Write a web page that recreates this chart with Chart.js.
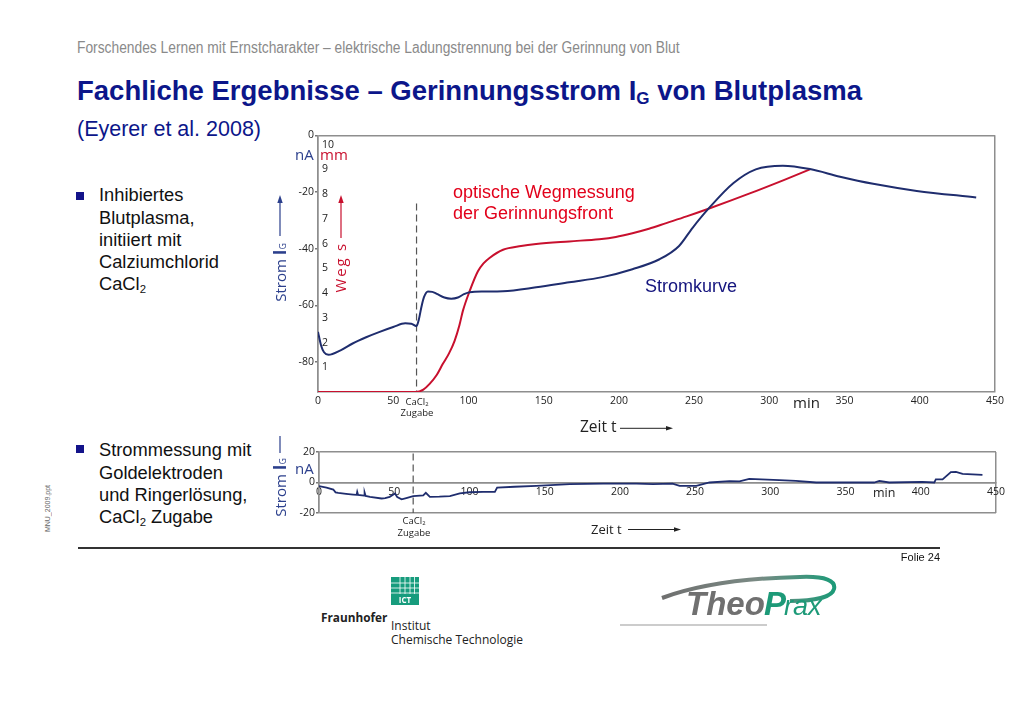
<!DOCTYPE html>
<html><head><meta charset="utf-8">
<script src="https://cdn.jsdelivr.net/npm/chart.js@4.4.1/dist/chart.umd.min.js"></script>
<style>
html,body{margin:0;padding:0;background:#fff;}
#page{position:relative;width:1024px;height:724px;overflow:hidden;background:#fff;font-family:"Liberation Sans",Arial,sans-serif;}
.t{position:absolute;white-space:nowrap;line-height:1;}
.os{font-family:"Open Sans",sans-serif;}
canvas{position:absolute;}
.vert{position:absolute;writing-mode:vertical-rl;transform:rotate(180deg);white-space:nowrap;line-height:1;font-family:"Open Sans",sans-serif;}
sub.g{font-size:62%;vertical-align:-0.25em;line-height:0;}
.vert sub.g{font-size:60%;vertical-align:-0.3em;font-weight:normal;}
.sq{position:absolute;width:8px;height:8px;background:#13138a;}
</style></head><body><div id="page">
<canvas id="main" width="729" height="287" style="left:278px;top:125px;width:729px;height:287px"></canvas>
<canvas id="lower" width="729" height="77" style="left:279px;top:444px;width:729px;height:77px"></canvas>

<div class="t" style="left:77px;top:40px;font-size:16px;color:#8a8a8a;transform:scaleX(0.862);transform-origin:0 0;">Forschendes Lernen mit Ernstcharakter – elektrische Ladungstrennung bei der Gerinnung von Blut</div>
<div class="t" style="left:77px;top:77px;font-size:27.5px;font-weight:bold;color:#0c168a;">Fachliche Ergebnisse – Gerinnungsstrom I<sub class="g">G</sub> von Blutplasma</div>
<div class="t" style="left:77px;top:119px;font-size:21.5px;color:#0c168a;">(Eyerer et al. 2008)</div>

<div class="sq" style="left:76px;top:192px;"></div>
<div class="t" style="left:99px;top:184.3px;font-size:18.3px;line-height:22.3px;color:#111;">Inhibiertes<br>Blutplasma,<br>initiiert mit<br>Calziumchlorid<br>CaCl<sub class="g">2</sub></div>
<div class="sq" style="left:76px;top:445px;"></div>
<div class="t" style="left:99px;top:439.3px;font-size:18.3px;line-height:22.3px;color:#111;">Strommessung mit<br>Goldelektroden<br>und Ringerlösung,<br>CaCl<sub class="g">2</sub> Zugabe</div>

<div class="t" style="left:453px;top:182.3px;font-size:18px;line-height:21px;color:#e2001a;">optische Wegmessung<br>der Gerinnungsfront</div>
<div class="t" style="left:645px;top:276.5px;font-size:18px;color:#14147e;">Stromkurve</div>

<div class="t os" style="left:295px;top:147px;font-size:15px;color:#2b3f8c;">nA</div>
<div class="t os" style="left:320px;top:146.7px;font-size:15px;color:#c8102e;">mm</div>
<div class="vert" style="left:270.5px;bottom:422px;font-size:15px;color:#2b3f8c;">Strom <b style="font-size:17px;">I</b><sub class="g">G</sub></div>
<div class="vert" style="left:333px;bottom:432px;font-size:15px;letter-spacing:1.8px;color:#c8102e;">Weg s</div>

<div class="t os" style="left:387px;top:395.5px;width:60px;text-align:center;font-size:9.5px;line-height:11.5px;color:#222;">CaCl<sub class="g">2</sub><br>Zugabe</div>
<div class="t os" style="left:793px;top:394.7px;font-size:15px;color:#222;">min</div>
<div class="t os" style="left:580px;top:419.3px;font-size:15.5px;color:#222;">Zeit t</div>

<div class="t os" style="left:295px;top:461px;font-size:15px;color:#2b3f8c;">nA</div>
<div class="vert" style="left:270.5px;bottom:207px;font-size:15px;color:#2b3f8c;">Strom <b style="font-size:17px;">I</b><sub class="g">G</sub></div>
<div class="t os" style="left:384px;top:515px;width:60px;text-align:center;font-size:9.5px;line-height:11.5px;color:#222;">CaCl<sub class="g">2</sub><br>Zugabe</div>
<div class="t os" style="left:873px;top:487px;font-size:12.5px;color:#222;">min</div>
<div class="t os" style="left:591px;top:523px;font-size:13px;color:#222;">Zeit t</div>

<div class="vert" style="left:44px;bottom:192px;font-family:'Liberation Sans',sans-serif;font-size:7px;color:#666;">MNU_2009.ppt</div>
<div class="t" style="left:880px;top:552px;width:60px;text-align:right;font-size:11px;color:#111;">Folie 24</div>

<div class="t os" style="left:321px;top:611.5px;font-size:11.8px;font-weight:bold;color:#222;">Fraunhofer</div>
<div class="t os" style="left:391px;top:619px;font-size:12px;line-height:14px;color:#222;">Institut<br>Chemische Technologie</div>

<svg style="position:absolute;left:0;top:0;" width="1024" height="724" viewBox="0 0 1024 724">
  <defs>
    <linearGradient id="sw" x1="0" y1="0" x2="1" y2="0">
      <stop offset="0" stop-color="#6f6f6f"/>
      <stop offset="0.55" stop-color="#7a8a84"/>
      <stop offset="1" stop-color="#1d9a78"/>
    </linearGradient>
  </defs>
  <!-- axis arrows -->
  <line x1="280" y1="236" x2="280" y2="201" stroke="#2b3f8c" stroke-width="1.2"/>
  <polygon points="280,195 277.3,203 282.7,203" fill="#2b3f8c"/>
  <line x1="341" y1="238" x2="341" y2="201" stroke="#c8102e" stroke-width="1.2"/>
  <polygon points="341,195 338.3,203 343.7,203" fill="#c8102e"/>
  <line x1="280" y1="453" x2="280" y2="436" stroke="#2b3f8c" stroke-width="1.2"/>
  <line x1="620" y1="428.3" x2="667" y2="428.3" stroke="#222" stroke-width="1"/>
  <polygon points="673,428.3 666,426 666,430.6" fill="#222"/>
  <line x1="628" y1="529.5" x2="675" y2="529.5" stroke="#222" stroke-width="1"/>
  <polygon points="681,529.5 674,527.2 674,531.8" fill="#222"/>
  <!-- bottom rule -->
  <line x1="78" y1="548" x2="940" y2="548" stroke="#333" stroke-width="2"/>
  <!-- Fraunhofer ICT mark -->
  <rect x="391" y="577" width="28" height="28" fill="#179c7d"/>
  <g stroke="#fff" stroke-width="0.8">
    <line x1="391" y1="583" x2="419" y2="583"/><line x1="391" y1="588" x2="419" y2="588"/><line x1="391" y1="593" x2="419" y2="593"/>
    <line x1="400" y1="577" x2="400" y2="594"/><line x1="405" y1="577" x2="405" y2="594"/><line x1="410" y1="577" x2="410" y2="594"/><line x1="414.5" y1="577" x2="414.5" y2="594"/>
  </g>
  <text x="405" y="603" text-anchor="middle" font-family="Open Sans,sans-serif" font-size="8" font-weight="bold" fill="#fff">ICT</text>
  <!-- TheoPrax logo -->
  <line x1="620" y1="625" x2="767" y2="625" stroke="#9a9a9a" stroke-width="1.2"/>
  <path d="M662,598 C700,584 750,578 800,577 C826,576 836,581 834,589 C832,597 815,601 790,601" fill="none" stroke="url(#sw)" stroke-width="4"/>
  <text x="686" y="615" font-family="Liberation Sans,sans-serif" font-style="italic" font-weight="bold" font-size="33" fill="#707070">Theo</text>
  <text x="764" y="615" font-family="Liberation Sans,sans-serif" font-style="italic" font-weight="bold" font-size="33" fill="#1d9a78">P</text>
  <text x="784" y="615" font-family="Liberation Sans,sans-serif" font-style="italic" font-size="27" fill="#1d9a78">rax</text>
</svg>
</div>
<script>
// ---------- data ----------
const xTicks = [0, 50, 100, 150, 200, 250, 300, 350, 400, 450];
const nATicks = [0, -20, -40, -60, -80];
const mmTicks = [1, 2, 3, 4, 5, 6, 7, 8, 9, 10];
const lowerTicks = [20, 0, -20];

// Stromkurve (nA) over time (min)
const stromT = [0, 2, 4, 7, 15, 23, 32, 41, 50, 58, 62, 65.4, 67, 68.7, 70.5, 73.1, 76, 79, 84, 88.6, 93, 97, 100.8, 110, 122.9, 145, 167, 189, 209, 227, 240, 249, 260, 276, 291, 309, 327, 347, 369, 398, 437.5];
const stromI = [-69.3, -74, -76.5, -77.4, -75.8, -73.4, -71.2, -69.3, -67.6, -66.3, -66.4, -67.3, -65, -60.6, -57, -55.1, -55.2, -55.9, -57.2, -57.6, -57.2, -56, -55.3, -55.1, -55.0, -53.6, -51.8, -50, -47.2, -43.7, -39.0, -32.6, -25.6, -16.9, -12.0, -10.7, -11.9, -14.6, -17.1, -19.6, -21.9];

// optische Wegmessung (mm) over time (min)
const wegT = [0, 65, 70, 74.2, 79, 83, 87, 90.8, 94, 96.3, 100.8, 106.3, 110, 114, 123, 135, 145, 167, 187, 198, 209, 220, 231.5, 245, 260, 287, 310, 327];
const wegS = [0, 0, 0.1, 0.33, 0.7, 1.14, 1.55, 2.07, 2.7, 3.28, 4.08, 4.88, 5.2, 5.42, 5.75, 5.9, 5.98, 6.09, 6.18, 6.27, 6.42, 6.6, 6.83, 7.1, 7.42, 8.03, 8.58, 9.0];

// CaCl2 Zugabe marker (min)
const cacl2Main = 65.5;
const cacl2Lower = 62.6;

// lower chart: Strom (nA) with gold electrodes / Ringer solution
const lowerT = [0, 5, 9.5, 11, 12.8, 18, 22.8, 25, 25.4, 26, 30, 30.3, 31, 33.9, 41.6, 44, 47, 50.5, 52, 54.9, 58, 62.6, 69.3, 71, 73.7, 80, 87, 93.6, 100, 109, 116.9, 118.4, 130, 144.5, 166.7, 188.8, 211, 222, 235, 239.7, 250.8, 259.6, 272.9, 279.5, 286, 306, 317, 330.5, 369, 372.5, 379, 401, 409, 410, 414.5, 420, 423.4, 427.8, 441];
const lowerI = [-2.4, -3.3, -4.6, -6.5, -6.8, -7.4, -7.9, -8.1, -6.1, -8.2, -8.6, -6.5, -8.8, -9.4, -10.5, -10.2, -9.4, -7.2, -9.5, -11, -10.2, -9.0, -8.4, -6.8, -9.4, -9.3, -9.0, -7.2, -6.4, -6.1, -6.1, -3.3, -2.8, -2.2, -1.1, -0.7, -0.7, -1.1, -0.7, -2.2, -2.2, 0, 0.9, 0.7, 2.4, 1.5, 1.1, 0, 0, 1.1, 0, 0.4, 0, 2.0, 2.0, 6.8, 7.0, 5.7, 5.0];

// ---------- styles ----------
const frameColor = '#8e8e8e';
const blue = '#1f2d6e';
const red = '#c8102e';
const tickFont = { family: 'Open Sans', size: 10.5 };
const pts = (xs, ys) => xs.map((x, i) => ({ x: x, y: ys[i] }));
const setTicks = arr => scale => { scale.ticks = arr.map(v => ({ value: v })); };
const edgeX = ctx => (ctx.tick && (ctx.tick.value === 0 || ctx.tick.value === 450)) ? frameColor : 'rgba(0,0,0,0)';

new Chart(document.getElementById('main'), {
  type: 'line',
  data: {
    datasets: [
      { label: 'Stromkurve', data: pts(stromT, stromI), yAxisID: 'y', borderColor: blue, borderWidth: 2, pointRadius: 0, cubicInterpolationMode: 'monotone', fill: false },
      { label: 'optische Wegmessung der Gerinnungsfront', data: pts(wegT, wegS), yAxisID: 'y2', borderColor: red, borderWidth: 2, pointRadius: 0, cubicInterpolationMode: 'monotone', fill: false },
      { label: 'CaCl2 Zugabe', data: [{ x: cacl2Main, y: -24 }, { x: cacl2Main, y: -90.5 }], yAxisID: 'y', borderColor: '#555', borderWidth: 1.2, borderDash: [7, 4], pointRadius: 0, fill: false }
    ]
  },
  options: {
    responsive: false, animation: false, events: [],
    layout: { padding: { top: 8, right: 12, left: 0, bottom: 0 } },
    plugins: { legend: { display: false }, tooltip: { enabled: false } },
    scales: {
      x: {
        type: 'linear', position: 'bottom', min: 0, max: 450,
        afterBuildTicks: setTicks(xTicks), afterFit: s => { s.height = 20; },
        grid: { color: edgeX, lineWidth: 1.5, drawTicks: false },
        border: { display: true, color: frameColor, width: 1.5 },
        ticks: { padding: 3, font: tickFont, color: '#222', maxRotation: 0, autoSkip: false }
      },
      y: {
        type: 'linear', position: 'left', weight: 1, min: -90.5, max: 0,
        afterBuildTicks: setTicks(nATicks), afterFit: s => { s.width = 40; },
        grid: { color: ctx => (ctx.tick && ctx.tick.value === 0) ? frameColor : 'rgba(0,0,0,0)', lineWidth: 1.5, tickColor: '#777', tickLength: 3 },
        border: { display: true, color: frameColor, width: 1.5 },
        ticks: { padding: 1, font: tickFont, color: '#222' }
      },
      y2: {
        type: 'linear', position: 'left', weight: 0, min: 0, max: 10.38,
        afterBuildTicks: setTicks(mmTicks), afterFit: s => { s.width = 0; },
        grid: { display: false }, border: { display: false },
        ticks: { mirror: true, padding: 4, font: tickFont, color: '#222' }
      }
    }
  }
});

new Chart(document.getElementById('lower'), {
  type: 'line',
  data: {
    datasets: [
      { label: 'Strom IG', data: pts(lowerT, lowerI), borderColor: blue, borderWidth: 1.8, pointRadius: 0, tension: 0, fill: false },
      { label: 'CaCl2 Zugabe', data: [{ x: cacl2Lower, y: 19 }, { x: cacl2Lower, y: -20 }], borderColor: '#555', borderWidth: 1.2, borderDash: [7, 4], pointRadius: 0, fill: false }
    ]
  },
  options: {
    responsive: false, animation: false, events: [],
    layout: { padding: { top: 8, right: 12, left: 0, bottom: 8 } },
    plugins: { legend: { display: false }, tooltip: { enabled: false } },
    scales: {
      x: {
        type: 'linear', position: { y: 0 }, min: 0, max: 450,
        afterBuildTicks: setTicks(xTicks),
        grid: { color: edgeX, lineWidth: 1.5, drawTicks: false },
        border: { display: true, color: frameColor, width: 1.5 },
        ticks: { padding: 3, font: tickFont, color: '#222', maxRotation: 0, autoSkip: false }
      },
      y: {
        type: 'linear', position: 'left', min: -20, max: 20,
        afterBuildTicks: setTicks(lowerTicks), afterFit: s => { s.width = 40; },
        grid: { color: frameColor, lineWidth: 1.5, tickColor: '#777', tickLength: 3 },
        border: { display: true, color: frameColor, width: 1.5 },
        ticks: { padding: 1, font: tickFont, color: '#222' }
      }
    }
  }
});
</script>
</body></html>
